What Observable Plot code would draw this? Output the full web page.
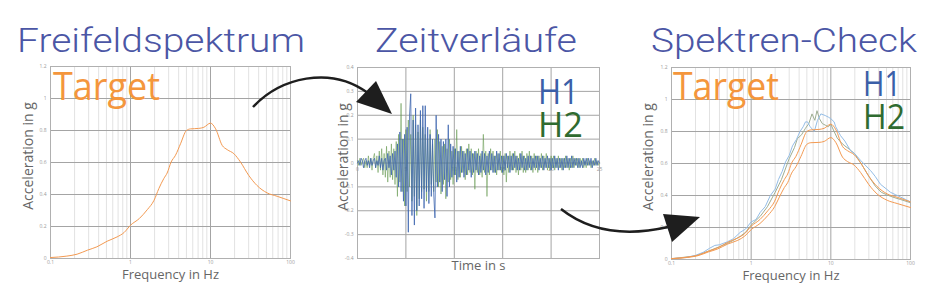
<!DOCTYPE html>
<html><head><meta charset="utf-8">
<script src="https://cdn.jsdelivr.net/npm/d3@7"></script>
<script src="https://cdn.jsdelivr.net/npm/@observablehq/plot@0.6"></script>
<style>
html,body{margin:0;padding:0;background:#fff;}
#wrap{position:relative;width:930px;height:288px;overflow:hidden;background:#fff;}
#wrap svg{position:absolute;top:0;}
</style></head><body><div id="wrap"></div>
<script>
// ---------- data ----------
const titles = ["Freifeldspektrum", "Zeitverläufe", "Spektren-Check"];
const yLabel = "Acceleration in g";
const freqLabel = "Frequency in Hz";
const timeLabel = "Time in s";

// spectrum axes
const specYTicks = [0, 0.2, 0.4, 0.6, 0.8, 1, 1.2];
const decades = [0.1, 1, 10, 100];
const minorFreq = [0.2,0.3,0.4,0.5,0.6,0.7,0.8,0.9,2,3,4,5,6,7,8,9,20,30,40,50,60,70,80,90];

// target spectrum
const targetFreq = [0.1,0.16,0.215,0.29,0.38,0.51,0.68,0.83,1.0,1.29,1.62,1.97,2.26,2.61,2.87,3.22,3.65,4.22,5.0,5.62,7.1,8.25,10,11.6,14,16.2,19.6,23.7,30,38,51,68,100];
const targetVal  = [0.006,0.015,0.027,0.052,0.073,0.108,0.135,0.162,0.208,0.25,0.305,0.364,0.437,0.50,0.534,0.603,0.645,0.717,0.80,0.81,0.813,0.82,0.846,0.81,0.707,0.68,0.655,0.603,0.52,0.457,0.41,0.389,0.36];
// lower tolerance curve (right panel)
const lowerVal   = [0.005,0.013,0.024,0.047,0.066,0.097,0.12,0.146,0.187,0.225,0.275,0.33,0.39,0.45,0.48,0.54,0.58,0.645,0.72,0.73,0.732,0.738,0.762,0.73,0.64,0.612,0.59,0.543,0.468,0.41,0.37,0.35,0.325];

// response spectra of the time histories
const h1Freq = [0.1,0.15,0.2,0.25,0.3,0.35,0.4,0.5,0.6,0.73,0.85,1.0,1.15,1.3,1.5,1.74,2.0,2.2,2.45,2.7,3.0,3.3,3.7,4.1,4.5,4.8,5.1,5.5,6.2,6.8,7.5,8.5,9.3,10,11,11.5,13.2,15,17.7,20,23.6,27,31.5,36,42,50,56,65,75,87,100];
const h1Val  = [0.005,0.012,0.026,0.045,0.07,0.088,0.092,0.11,0.13,0.17,0.19,0.235,0.25,0.295,0.33,0.40,0.44,0.50,0.55,0.61,0.65,0.71,0.75,0.80,0.83,0.86,0.86,0.83,0.80,0.87,0.91,0.90,0.89,0.88,0.86,0.83,0.775,0.74,0.68,0.66,0.62,0.59,0.556,0.52,0.47,0.44,0.42,0.405,0.39,0.375,0.36];
const h2Freq = [0.1,0.2,0.3,0.4,0.5,0.6,0.73,0.85,1.0,1.3,1.6,2.0,2.4,3.0,3.5,3.8,4.3,4.8,5.3,5.8,6.3,6.7,7.2,7.8,8.5,9.3,10,11,12,13.5,15,17,20,24,30,36,43,50,60,75,100];
const h2Val  = [0.005,0.022,0.055,0.08,0.1,0.12,0.145,0.17,0.215,0.27,0.33,0.42,0.50,0.63,0.70,0.755,0.78,0.82,0.85,0.91,0.87,0.93,0.88,0.85,0.84,0.83,0.845,0.80,0.76,0.73,0.71,0.69,0.66,0.60,0.52,0.46,0.42,0.405,0.39,0.375,0.355];

// time histories (sample step 0.125 s, 0..25 s)
const timeStep = 0.125;
const timeYTicks = [-0.4,-0.3,-0.2,-0.1,0,0.1,0.2,0.3,0.4];
const timeXTicks = [0, 5, 10, 15, 20, 25];
const timeGrid = [5, 10, 15, 20];
const h1Acc = [
 0.00,0.01,-0.01,0.02,0.01,-0.02,0.01,0.02,
 -0.01,0.01,-0.02,0.02,-0.01,0.01,0.02,-0.02,
 0.01,-0.01,0.03,-0.02,0.02,-0.03,0.01,0.02,
 -0.03,0.04,-0.02,0.03,-0.05,0.04,-0.03,0.05,
 -0.06,0.08,-0.10,0.13,-0.12,0.10,-0.16,0.12,
 -0.18,0.15,-0.29,0.20,0.29,-0.22,0.18,-0.26,
 0.23,-0.20,0.16,-0.18,0.22,-0.15,0.24,-0.19,
 0.24,-0.12,0.15,-0.17,0.12,-0.14,0.10,-0.13,
 -0.23,0.20,-0.10,0.12,-0.08,0.10,-0.12,0.09,
 -0.07,0.10,-0.14,0.16,-0.10,0.08,-0.06,0.07,
 -0.05,0.06,-0.08,0.05,-0.06,0.07,-0.04,0.05,
 -0.06,0.04,-0.05,0.06,-0.03,0.05,-0.06,0.04,
 -0.04,0.05,-0.03,0.04,-0.05,0.03,-0.04,0.05,
 -0.03,0.04,-0.05,0.03,-0.04,0.05,-0.03,0.04,
 -0.04,0.03,-0.04,0.05,-0.03,0.04,-0.03,0.03,
 -0.04,0.03,-0.03,0.04,-0.02,0.03,-0.04,0.03,
 -0.03,0.04,-0.02,0.03,-0.03,0.02,-0.03,0.04,
 -0.02,0.03,-0.03,0.02,-0.03,0.03,-0.02,0.03,
 -0.03,0.02,-0.02,0.03,-0.02,0.03,-0.03,0.02,
 -0.02,0.03,-0.03,0.02,-0.02,0.03,-0.02,0.02,
 -0.03,0.02,-0.02,0.03,-0.02,0.02,-0.03,0.02,
 -0.02,0.02,-0.03,0.02,-0.02,0.03,-0.02,0.02,
 -0.02,0.03,-0.02,0.02,-0.01,0.02,-0.02,0.02,
 -0.02,0.01,-0.02,0.02,-0.01,0.02,-0.01,0.02,
 -0.01,0.02,-0.02,0.01,-0.01,0.02,-0.01,0.01,
 0.00];
const h2Acc = [
 0.01,-0.01,0.02,-0.01,0.01,0.02,-0.02,0.01,
 -0.02,0.03,-0.01,0.02,-0.03,0.02,0.04,-0.02,
 0.03,-0.04,0.05,-0.03,0.06,-0.05,0.04,-0.06,
 0.07,-0.08,0.05,-0.06,0.08,-0.07,0.06,-0.09,
 0.09,-0.14,0.12,-0.08,0.25,-0.12,0.10,-0.18,
 0.14,-0.12,0.18,-0.10,0.12,-0.16,0.20,-0.14,
 0.16,-0.22,0.13,-0.15,0.18,-0.12,0.15,-0.11,
 0.12,-0.16,0.10,-0.12,0.14,-0.09,0.08,-0.12,
 0.10,-0.08,0.14,-0.10,0.09,-0.13,0.07,-0.09,
 0.08,-0.15,0.06,-0.08,0.10,-0.07,0.05,-0.09,
 0.06,-0.05,0.14,-0.07,0.05,-0.06,0.07,-0.04,
 0.05,-0.07,0.06,-0.05,0.08,-0.04,0.06,-0.05,
 0.04,-0.11,0.05,-0.04,0.06,-0.05,0.04,-0.06,
 0.12,-0.04,0.05,-0.14,0.04,-0.05,0.06,-0.03,
 0.05,-0.04,0.03,-0.05,0.04,-0.03,0.05,-0.04,
 0.03,-0.05,0.04,-0.08,0.03,-0.04,0.05,-0.03,
 0.04,-0.03,0.05,-0.04,0.03,-0.05,0.04,-0.03,
 0.05,-0.04,0.03,-0.04,0.04,-0.03,0.05,-0.03,
 0.03,-0.04,0.04,-0.03,0.03,-0.04,0.03,-0.02,
 0.04,-0.03,0.03,-0.02,0.04,-0.03,0.02,-0.03,
 0.03,-0.02,0.03,-0.03,0.02,-0.02,0.03,-0.02,
 0.02,-0.03,0.02,-0.02,0.03,-0.02,0.02,-0.03,
 0.02,-0.02,0.03,-0.02,0.02,-0.01,0.02,-0.02,
 0.02,-0.01,0.02,-0.02,0.01,-0.02,0.02,-0.01,
 0.01,-0.02,0.01,-0.01,0.02,-0.01,0.01,-0.01,
 0.00];

// ---------- colours ----------
const C = {
  title: "#4b56a5", target: "#f4963c", targetLine: "#f39a52",
  h1: "#3b5fa8", h2: "#2f6b30", h1Trace: "#3a62ad", h2Trace: "#5f9448",
  h1Spec: "#94bde6", h2Spec: "#9fae93",
  gridMajor: "#a4a4a4", gridMinor: "#e2e2e2", frame: "#b0b0b0", tick: "#9a9a9a", label: "#666"
};

const targetData = targetFreq.map((f, i) => ({f, a: targetVal[i]}));
const lowerData = targetFreq.map((f, i) => ({f, a: lowerVal[i]}));
const h1Spec = h1Freq.map((f, i) => ({f, a: h1Val[i]}));
const h2Spec = h2Freq.map((f, i) => ({f, a: h2Val[i]}));
const h1Trace = h1Acc.map((a, i) => ({t: i * timeStep, a}));
const h2Trace = h2Acc.map((a, i) => ({t: i * timeStep, a}));

const wrap = document.getElementById("wrap");
const baseStyle = {background: "transparent", fontFamily: "'Open Sans', sans-serif"};

function spectrumPanel({left, marginLeft, marginRight, marginTop, marginBottom, lines}) {
  const p = Plot.plot({
    width: 310, height: 288, marginLeft, marginRight, marginTop, marginBottom,
    style: baseStyle,
    x: {type: "log", domain: [0.1, 100], axis: null},
    y: {domain: [0, 1.2], axis: null},
    marks: [
      Plot.ruleX(minorFreq, {x: d => d, stroke: C.gridMinor, strokeWidth: 1}),
      Plot.ruleX(decades, {x: d => d, stroke: C.gridMajor, strokeWidth: 1}),
      Plot.ruleY(specYTicks, {y: d => d, stroke: C.gridMajor, strokeWidth: 1}),
      Plot.frame({stroke: C.frame}),
      Plot.text(specYTicks, {y: d => d, text: d => String(d), frameAnchor: "left", textAnchor: "end", dx: -4, fontSize: 5, fill: C.tick}),
      Plot.text(decades, {x: d => d, text: d => String(d), frameAnchor: "bottom", dy: 5, fontSize: 5, fill: C.tick}),
      ...lines,
      Plot.text([freqLabel], {text: d => d, frameAnchor: "bottom", dy: 20, fontSize: 13, fill: C.label})
    ]
  });
  p.style.left = left + "px";
  wrap.appendChild(p);
}

// panel 1
spectrumPanel({left: 0, marginLeft: 50, marginRight: 20, marginTop: 66, marginBottom: 30, lines: [
  Plot.line(targetData, {x: "f", y: "a", stroke: C.targetLine, strokeWidth: 1, curve: "monotone-x"})
]});

// panel 2 – time histories
{
  const p = Plot.plot({
    width: 310, height: 288, marginLeft: 47, marginRight: 21, marginTop: 67, marginBottom: 30,
    style: baseStyle,
    x: {domain: [0, 25], axis: null},
    y: {domain: [-0.4, 0.4], axis: null},
    marks: [
      Plot.ruleY(timeYTicks, {y: d => d, stroke: C.gridMajor}),
      Plot.ruleX(timeGrid, {x: d => d, stroke: C.gridMajor}),
      Plot.frame({stroke: C.frame}),
      Plot.text(timeYTicks, {y: d => d, text: d => String(d), frameAnchor: "left", textAnchor: "end", dx: -4, fontSize: 5, fill: C.tick}),
      Plot.text(timeXTicks, {x: d => d, y: 0, text: d => String(d), dy: 6, fontSize: 5, fill: C.tick}),
      Plot.line(h2Trace, {x: "t", y: "a", stroke: C.h2Trace, strokeWidth: 0.9, strokeOpacity: 0.6}),
      Plot.line(h1Trace, {x: "t", y: "a", stroke: C.h1Trace, strokeWidth: 0.9, strokeOpacity: 0.85}),
      Plot.text([timeLabel], {text: d => d, frameAnchor: "bottom", dy: 11, fontSize: 13, fill: C.label})
    ]
  });
  p.style.left = "310px";
  wrap.appendChild(p);
}

// panel 3
spectrumPanel({left: 620, marginLeft: 51, marginRight: 20, marginTop: 67, marginBottom: 29, lines: [
  Plot.line(h2Spec, {x: "f", y: "a", stroke: C.h2Spec, strokeWidth: 1}),
  Plot.line(h1Spec, {x: "f", y: "a", stroke: C.h1Spec, strokeWidth: 1}),
  Plot.line(lowerData, {x: "f", y: "a", stroke: C.targetLine, strokeWidth: 1, curve: "monotone-x"}),
  Plot.line(targetData, {x: "f", y: "a", stroke: C.targetLine, strokeWidth: 1, curve: "monotone-x"})
]});

// ---------- overlay: titles, legends, axis labels, arrows ----------
const NS = "http://www.w3.org/2000/svg";
const ov = document.createElementNS(NS, "svg");
ov.setAttribute("width", 930); ov.setAttribute("height", 288);
ov.style.left = "0px"; ov.style.pointerEvents = "none";
wrap.appendChild(ov);
function txt(s, x, y, size, fill, len, family, weight, rotate) {
  const t = document.createElementNS(NS, "text");
  t.setAttribute("font-size", size); t.setAttribute("fill", fill);
  t.setAttribute("font-family", family);
  if (weight) t.setAttribute("font-weight", weight);
  if (rotate) {
    t.setAttribute("transform", `translate(${x},${y}) rotate(${rotate})`);
    t.setAttribute("text-anchor", "middle"); t.setAttribute("dominant-baseline", "central");
  } else { t.setAttribute("x", x); t.setAttribute("y", y); }
  if (len) { t.setAttribute("textLength", len); t.setAttribute("lengthAdjust", "spacingAndGlyphs"); }
  t.textContent = s; ov.appendChild(t);
}
// two-line legend (H1 over H2) as one text block
function legendPair(x, y1, y2, size, w1, w2, family) {
  const t = document.createElementNS(NS, "text");
  t.setAttribute("font-size", size); t.setAttribute("font-family", family);
  [["H1", y1, C.h1, w1], ["H2", y2, C.h2, w2]].forEach(([s, y, fill, w]) => {
    const ts = document.createElementNS(NS, "tspan");
    ts.setAttribute("x", x); ts.setAttribute("y", y); ts.setAttribute("fill", fill);
    ts.setAttribute("textLength", w); ts.setAttribute("lengthAdjust", "spacingAndGlyphs");
    ts.textContent = s; t.appendChild(ts);
  });
  ov.appendChild(t);
}
const titleFont = "Roboto, 'DejaVu Sans Condensed', sans-serif";
const legFont = "'Open Sans', 'Noto Sans', sans-serif";
txt(titles[0], 17, 52, 33, C.title, 288, titleFont, 300);
txt(titles[1], 375, 52, 33, C.title, 202, titleFont, 300);
txt(titles[2], 651, 52, 33, C.title, 266, titleFont, 300);
txt("Target", 53, 100, 39, C.target, 107, legFont);
legendPair(538, 104, 137, 35, 41, 45, legFont);
txt("Target", 673, 100, 39, C.target, 106, legFont);
legendPair(863, 96, 129, 34, 38, 42, legFont);
txt(yLabel, 27, 156, 14, C.label, null, legFont, null, -90);
txt(yLabel, 342, 157, 14, C.label, null, legFont, null, -90);
txt(yLabel, 647, 157, 14, C.label, null, legFont, null, -90);
function path(d, fill, stroke, w) {
  const p = document.createElementNS(NS, "path");
  p.setAttribute("d", d); p.setAttribute("fill", fill);
  if (stroke) { p.setAttribute("stroke", stroke); p.setAttribute("stroke-width", w); }
  ov.appendChild(p);
}
path("M253,107 C280,78 330,65 368,93", "none", "#1e1e1e", 2.5);
path("M356,102 L376,81 L392,114 Z", "#1e1e1e");
path("M561,209 C585,228 620,238 668,227", "none", "#1e1e1e", 2.5);
path("M663,214 L700,217 L672,242 Z", "#1e1e1e");
</script></body></html>
